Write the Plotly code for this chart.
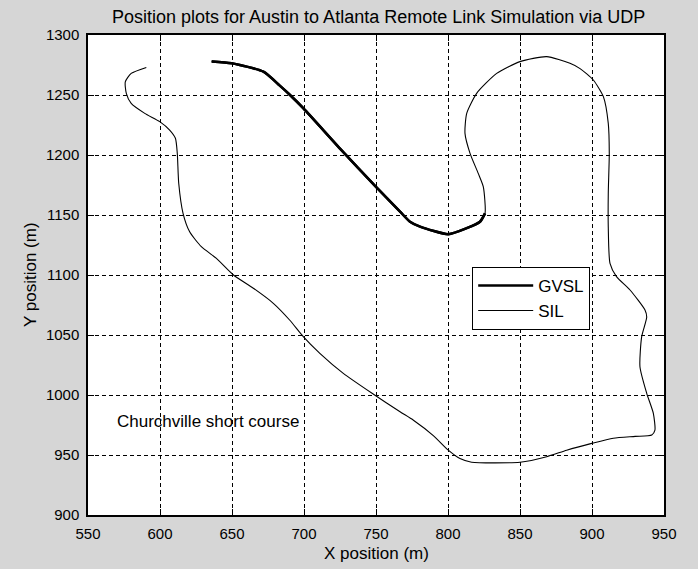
import plotly.graph_objects as go

# SIL trace (thin line) - full course loop
sil_x = [590.5, 580, 575.9, 576.6, 580, 589.4, 599.8, 606.7, 610.7, 612, 613, 616, 620.6, 628.7,
         639, 651, 664.8, 678.7, 690, 699.5, 711, 727.3, 748, 766.7, 776, 790, 800.2, 808.3, 816.4,
         850, 868.5, 882.4, 899.8, 914.8, 930, 941.5, 943.7, 942.6, 938, 933.3, 934.5, 938, 936.8,
         926.4, 917, 912.5, 911.3, 911.3, 912, 911.3, 907.9, 900.9, 891.7, 884.7, 868.5, 850,
         833.8, 819.9, 813, 811.8, 815.3, 821, 824.5, 825.7, 822.2, 813, 800.2, 780.6, 773.6,
         766.7, 749.5, 726, 690.3, 683, 671.8, 649.8, 635.9]
sil_y = [1273, 1268, 1261, 1251.4, 1243, 1234.7, 1227.8, 1220.8, 1213.9, 1201.4, 1176.4, 1151.4,
         1136, 1123.6, 1114, 1100, 1089, 1076.4, 1062.5, 1048.6, 1034.7, 1018, 1000.8, 986, 979,
         966, 954, 947, 944, 944, 948.6, 954, 959.7, 964, 965.5, 966.7, 970.8, 984.7, 1001.4,
         1023.6, 1048.6, 1065, 1070.8, 1087.5, 1098.6, 1109.7, 1140, 1168, 1201.4, 1226.4, 1248.6,
         1262.5, 1272, 1276.4, 1282, 1277.8, 1268, 1251.4, 1234.7, 1218, 1201.4, 1184.7, 1173.6,
         1151.4, 1144.4, 1139, 1134, 1140.3, 1144.4, 1152.8, 1174, 1204, 1250, 1258, 1269.4,
         1276.4, 1278]

# GVSL trace (thick line)
gvsl_x = [635.9, 649.8, 671.8, 683, 690.3, 699.5, 726, 749.5, 766.7, 773.6, 780.6, 800.2, 813,
          822.2, 825.7]
gvsl_y = [1278, 1276.4, 1269.4, 1258, 1250, 1239, 1204, 1174, 1152.8, 1144.4, 1140.3, 1134,
          1139, 1144.4, 1151.4]

x_ticks = [550, 600, 650, 700, 750, 800, 850, 900, 950]
y_ticks = [900, 950, 1000, 1050, 1100, 1150, 1200, 1250, 1300]

title_text = "Position plots for Austin to Atlanta Remote Link Simulation via UDP"
x_label = "X position (m)"
y_label = "Y position (m)"
note_text = "Churchville short course"
note_x, note_y = 568.5, 978

FONT = "Liberation Sans, Arial, sans-serif"
TXT = 17

fig = go.Figure()
fig.add_trace(go.Scatter(x=gvsl_x, y=gvsl_y, mode="lines", name="GVSL", legendgroup="a",
                         line=dict(color="black", width=2.5, shape="spline", smoothing=0.6)))
fig.add_trace(go.Scatter(x=sil_x, y=sil_y, mode="lines", name="SIL", legendgroup="b",
                         line=dict(color="black", width=1.1, shape="spline", smoothing=0.6)))
# GVSL again on top (no legend) so the thick segment overlays the thin loop
fig.add_trace(go.Scatter(x=gvsl_x, y=gvsl_y, mode="lines", showlegend=False,
                         line=dict(color="black", width=2.5, shape="spline", smoothing=0.6),
                         hoverinfo="skip"))

axis_common = dict(
    showgrid=True, gridcolor="black", gridwidth=1.2, griddash="4px,3px",
    showline=True, linecolor="black", linewidth=1.5, mirror="ticks",
    ticks="inside", ticklen=6, tickcolor="black",
    zeroline=False, tickfont=dict(family=FONT, size=15, color="black"),
)

fig.update_layout(
    width=698, height=569,
    paper_bgcolor="#d6d6d6", plot_bgcolor="white",
    margin=dict(l=88, r=34, t=35, b=54),
    font=dict(family=FONT, size=TXT, color="black"),
    showlegend=True,
    legend=dict(x=0.667, y=0.517, xanchor="left", yanchor="top",
                bgcolor="white", bordercolor="black", borderwidth=1,
                font=dict(family=FONT, size=TXT, color="black"),
                itemwidth=55, tracegroupgap=0),
    xaxis=dict(range=[550, 950], tickvals=x_ticks, ticktext=[str(v) for v in x_ticks],
               ticklabelstandoff=4, **axis_common),
    yaxis=dict(range=[900, 1300], tickvals=y_ticks, ticktext=[str(v) for v in y_ticks],
               ticklabelstandoff=4, **axis_common),
)

fig.add_annotation(text=title_text, xref="paper", yref="paper", x=0.505, y=1,
                   yshift=18, showarrow=False, xanchor="center", yanchor="middle",
                   font=dict(family=FONT, size=18, color="black"))
fig.add_annotation(text=x_label, xref="paper", yref="paper", x=0.5, y=0,
                   yshift=-38, showarrow=False, xanchor="center", yanchor="middle",
                   font=dict(family=FONT, size=TXT, color="black"))
fig.add_annotation(text=y_label, xref="paper", yref="paper", x=0, y=0.5,
                   xshift=-58, showarrow=False, textangle=-90, xanchor="center",
                   yanchor="middle", font=dict(family=FONT, size=TXT, color="black"))
fig.add_annotation(text=note_text, x=note_x, y=note_y, xref="x", yref="y",
                   showarrow=False, xanchor="left", yanchor="middle",
                   font=dict(family=FONT, size=TXT, color="black"))

fig.write_html("out.html", config={"displayModeBar": False},
               post_script="document.body.style.margin='0px';")
